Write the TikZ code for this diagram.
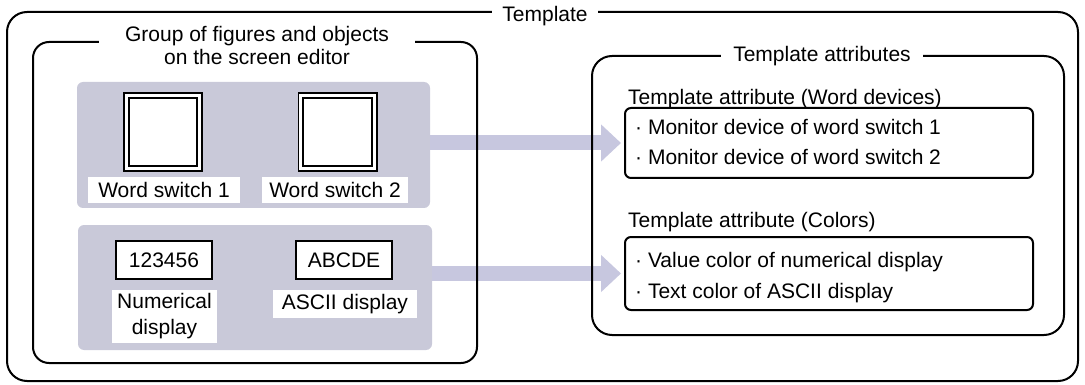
\documentclass[tikz,border=0pt]{standalone}
\usepackage{fontspec}
\setmainfont{Liberation Sans}
\usetikzlibrary{arrows.meta,positioning}
\definecolor{Panel}{HTML}{C9C9D9}
\definecolor{Flow}{HTML}{C7C7DF}

\begin{document}
\begin{tikzpicture}[x=1pt,y=-1pt,
    font=\fontsize{21}{25}\selectfont,
    frame/.style={draw,line width=2pt,rounded corners=#1,inner sep=0pt},
    frame/.default=20pt,
    panel/.style={fill=Panel,rounded corners=6pt,inner sep=0pt},
    title/.style={fill=white,anchor=base,inner xsep=10pt,inner ysep=2pt},
    wordsw/.style={draw,fill=white,line width=1.8pt,double=white,double distance=3pt,
      minimum size=73.4pt,inner sep=0pt},
    valbox/.style={draw,fill=white,line width=2.2pt,minimum width=96pt,minimum height=38pt,inner sep=0pt},
    tag/.style={fill=white,inner sep=0pt,align=center},
    item/.style={anchor=base west,inner sep=0pt},
    flow/.style={draw=Flow,line width=15pt,-{Triangle[length=20pt,width=36pt]},shorten >=3pt}
  ]
    \useasboundingbox (0,0) rectangle (1085,385);

    % grey groups of objects
    \node[panel,minimum width=353pt,minimum height=126pt] (wordpanel) at (253.5,145) {};
    \node[panel,minimum width=354pt,minimum height=125pt] (disppanel) at (255,287.5) {};

    % attribute boxes
    \node[frame=6pt,minimum width=408pt,minimum height=70pt] (devbox) at (829,143) {};
    \node[frame=6pt,minimum width=408pt,minimum height=73pt] (colbox) at (829,273.5) {};

    % arrows into the attributes
    \draw[flow] (wordpanel.east |- devbox.west) -- (devbox.west);
    \draw[flow] (disppanel.east |- colbox.west) -- (colbox.west);

    % frames
    \node[frame,minimum width=1071pt,minimum height=369pt] (tmpl) at (542.5,196.5) {};
    \node[frame=16pt,minimum width=444pt,minimum height=321pt] (group) at (255,202.5) {};
    \node[frame,minimum width=472pt,minimum height=279pt] (attrs) at (828,195.5) {};

    \node[title] (tmpltitle) at (545,22) {Template};
    \node[title,inner xsep=12pt] (attrstitle) at (822,62) {Template attributes};
    \node[title,align=center,inner xsep=26pt,inner ysep=0pt] (grouptitle) at (257,65)
      {Group of figures and objects\\[-2pt]on the screen editor};

    % word switches
    \node[wordsw] (sw1) at (163,132) {};
    \node[wordsw] (sw2) at (337.5,132) {};
    \node[tag,minimum width=152pt,minimum height=26pt] (sw1lbl) at (164,190) {Word switch 1};
    \node[tag,minimum width=146pt,minimum height=26pt] (sw2lbl) at (335,190) {Word switch 2};

    % displays
    \node[valbox] (numval) at (164,260) {123456};
    \node[valbox] (ascval) at (344,260) {ABCDE};
    \node[tag,minimum width=105pt,minimum height=53pt] (numlbl) at (164.5,316.5)
      {Numerical\\[1pt]display};
    \node[tag,minimum width=144pt,minimum height=28pt] (asclbl) at (345,304) {ASCII display};

    % attribute texts
    \node[item] (devhead) at (628,105) {Template attribute (Word devices)};
    \node[item] (dev1) at (635,135) {\textperiodcentered\ Monitor device of word switch 1};
    \node[item] (dev2) at (635,165) {\textperiodcentered\ Monitor device of word switch 2};
    \node[item] (colhead) at (628,227) {Template attribute (Colors)};
    \node[item] (col1) at (635,267) {\textperiodcentered\ Value color of numerical display};
    \node[item] (col2) at (635,298) {\textperiodcentered\ Text color of ASCII display};
  \end{tikzpicture}
\end{document}
